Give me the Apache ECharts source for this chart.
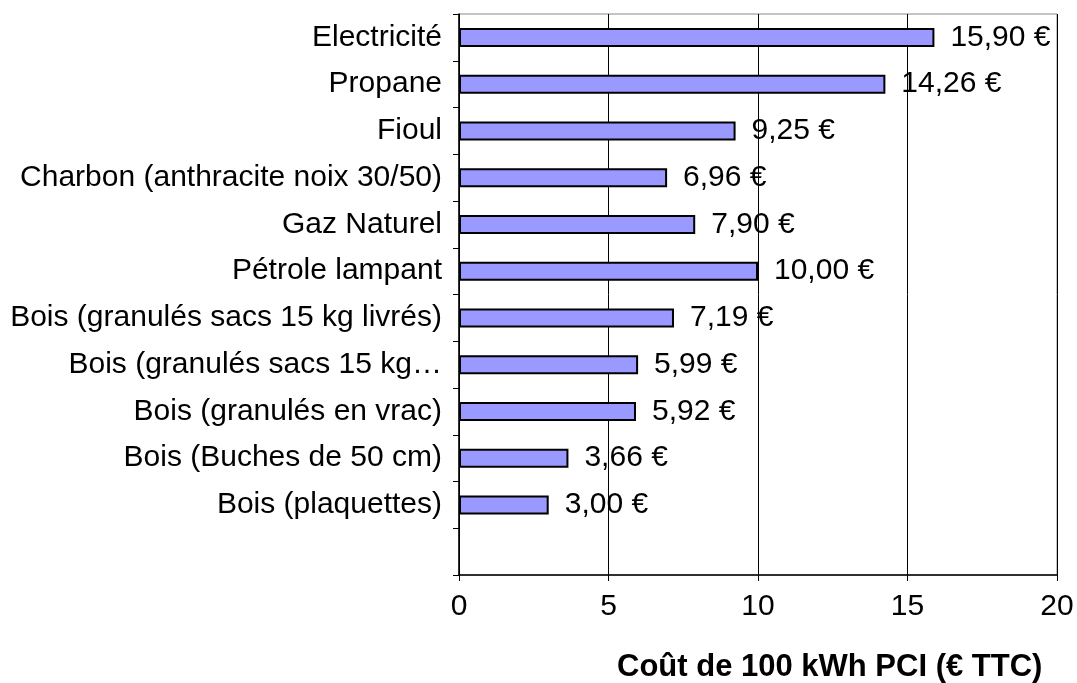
<!DOCTYPE html>
<html>
<head>
<meta charset="utf-8">
<script src="https://cdn.jsdelivr.net/npm/echarts@6/dist/echarts.min.js"></script>
<style>html,body{margin:0;padding:0;background:#fff}#c{width:1077px;height:683px}</style>
</head>
<body>
<div id="c"></div>
<script>
const categories = [
  "Electricité",
  "Propane",
  "Fioul",
  "Charbon (anthracite noix 30/50)",
  "Gaz Naturel",
  "Pétrole lampant",
  "Bois (granulés sacs 15 kg livrés)",
  "Bois (granulés sacs 15 kg…",
  "Bois (granulés en vrac)",
  "Bois (Buches de 50 cm)",
  "Bois (plaquettes)",
  ""
];
const costs = [15.90, 14.26, 9.25, 6.96, 7.90, 10.00, 7.19, 5.99, 5.92, 3.66, 3.00, null];
const xTicks = [0, 5, 10, 15, 20];
const axisTitle = "Coût de 100 kWh PCI (€ TTC)";

const FONT = "'Liberation Sans', Arial, sans-serif";
const chart = echarts.init(document.getElementById('c'), null, {renderer: 'canvas'});
chart.setOption({
  animation: false,
  backgroundColor: '#fff',
  textStyle: {fontFamily: FONT},
  title: {
    text: axisTitle,
    left: 612,
    top: 647,
    textStyle: {fontFamily: FONT, fontSize: 31, fontWeight: 'bold', color: '#000'}
  },
  grid: {
    left: 459, right: 20, top: 14, bottom: 108,
    show: true, borderColor: '#888', borderWidth: 1, containLabel: false
  },
  xAxis: {
    type: 'value',
    min: xTicks[0], max: xTicks[xTicks.length - 1], interval: xTicks[1] - xTicks[0],
    axisLine: {show: true, onZero: false, lineStyle: {color: '#000', width: 1.5}},
    axisTick: {show: true, inside: false, length: 6, lineStyle: {color: '#000'}},
    axisLabel: {fontFamily: FONT, fontSize: 30, color: '#000', margin: 17},
    splitLine: {show: true, lineStyle: {color: '#000', width: 1}}
  },
  yAxis: {
    type: 'category',
    data: categories,
    inverse: true,
    axisLine: {show: true, lineStyle: {color: '#000', width: 1.5}},
    axisTick: {show: true, inside: false, length: 6, alignWithLabel: false, lineStyle: {color: '#000'}},
    axisLabel: {fontFamily: FONT, fontSize: 30, color: '#000', margin: 17, interval: 0},
    splitLine: {show: false}
  },
  series: [{
    type: 'bar',
    data: costs,
    barWidth: 19,
    itemStyle: {color: '#9999ff', borderColor: '#000', borderWidth: 2},
    label: {
      show: true,
      position: 'right',
      distance: 16,
      fontFamily: FONT,
      fontSize: 30,
      color: '#000',
      formatter: p => p.value == null ? '' : p.value.toFixed(2).replace('.', ',') + ' €'
    }
  }]
});
</script>
</body>
</html>
